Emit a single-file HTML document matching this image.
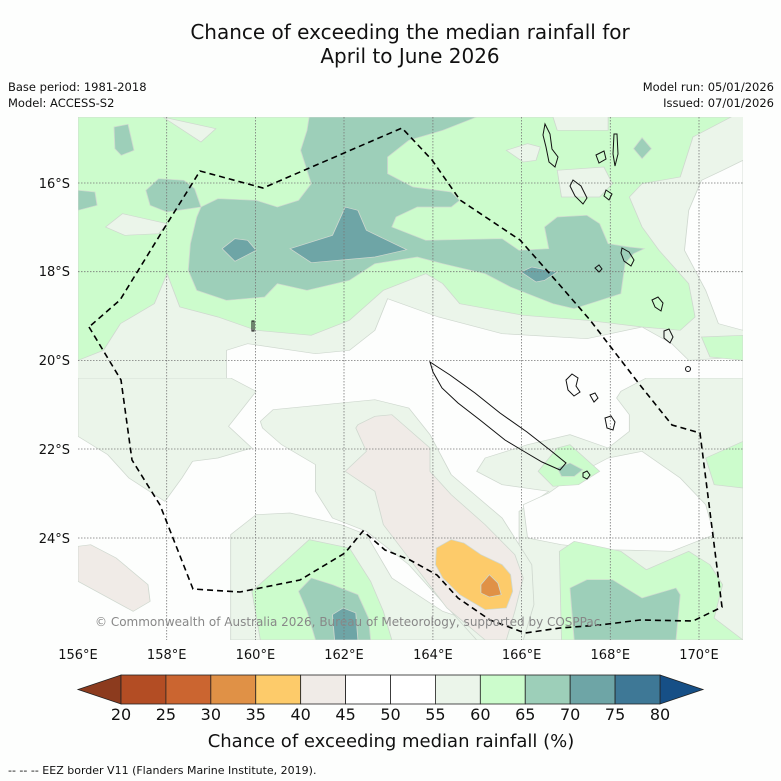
<!DOCTYPE html>
<html><head><meta charset="utf-8"><style>
body{margin:0;background:#fdfefd;}
svg{display:block;font-family:"DejaVu Sans","Liberation Sans",sans-serif;}
</style></head><body>
<svg width="781" height="781" viewBox="0 0 781 781">
<rect width="781" height="781" fill="#fdfefd"/>
<text x="410" y="39" text-anchor="middle" font-size="20" fill="#111">Chance of exceeding the median rainfall for</text>
<text x="410" y="63" text-anchor="middle" font-size="20" fill="#111">April to June 2026</text>
<text x="8" y="91" font-size="11.5" fill="#111">Base period: 1981-2018</text>
<text x="8" y="107" font-size="11.5" fill="#111">Model: ACCESS-S2</text>
<text x="774" y="91" text-anchor="end" font-size="11.5" fill="#111">Model run: 05/01/2026</text>
<text x="774" y="107" text-anchor="end" font-size="11.5" fill="#111">Issued: 07/01/2026</text>

<defs>
<clipPath id="ct"><rect x="78" y="117" width="665" height="261.5"/></clipPath>
<clipPath id="cb"><rect x="78" y="378" width="665" height="262"/></clipPath>
<clipPath id="cm"><rect x="78" y="117" width="665" height="523"/></clipPath>
</defs>

<g>
<rect x="78" y="117" width="665" height="523" fill="#fdfefd"/>
<g clip-path="url(#ct)">
<g transform="translate(78,117) scale(0.42411,0.33333)" stroke="#cfd8cf" stroke-width="2">
<rect x="0" y="0" width="1568" height="786" fill="#ebf5ea" stroke="none"/>
<polygon fill="#fdfefd" points="350,786 350,700 400,680 560,710 640,700 700,640 730,545 850,600 1000,650 1200,665 1330,630 1400,680 1440,730 1568,720 1568,786"/>
<polygon fill="#fdfefd" points="1568,130 1520,160 1470,190 1440,280 1430,400 1480,520 1510,620 1568,640"/>
<polygon fill="#ccfccc" points="0,0 1120,0 1130,40 1250,40 1250,0 1540,0 1450,60 1420,180 1330,200 1300,240 1330,330 1370,400 1440,500 1455,600 1420,640 1330,630 1200,610 1050,595 900,560 860,500 820,470 720,520 640,610 550,655 420,640 330,600 240,570 210,470 180,560 100,620 60,700 0,730"/>
<polygon fill="#ebf5ea" points="200,0 325,35 290,75"/>
<polygon fill="#ebf5ea" points="1010,100 1060,80 1090,90 1080,130 1050,135"/>
<polygon fill="#ebf5ea" points="65,330 105,290 210,320 190,350 110,355"/>
<polygon fill="#ebf5ea" points="1130,160 1240,150 1260,200 1230,240 1140,240"/>
<polygon fill="#ccfccc" points="1470,660 1568,655 1568,730 1490,720"/>
<polygon fill="#9dcfb9" points="545,0 940,0 860,40 780,70 730,120 730,170 790,210 880,225 900,250 880,270 800,270 750,300 740,330 820,370 1000,365 1040,400 1110,395 1100,330 1130,300 1200,295 1230,320 1250,380 1300,390 1335,395 1310,410 1290,440 1280,530 1170,575 1120,560 1020,510 960,470 860,440 800,420 700,440 640,490 540,520 470,500 440,540 350,550 280,520 260,460 265,380 280,300 290,270 330,245 420,250 470,270 520,250 550,200 525,100 540,40"/>
<polygon fill="#9dcfb9" points="160,220 190,185 250,190 275,215 290,270 210,285 170,265"/>
<polygon fill="#9dcfb9" points="85,30 118,22 132,100 102,115 87,95"/>
<polygon fill="#9dcfb9" points="0,220 40,225 45,265 0,280"/>
<polygon fill="#9dcfb9" points="1310,95 1330,62 1352,95 1330,125"/>
<polygon fill="#6ea5a6" points="500,395 600,355 630,270 660,280 680,340 775,398 700,420 550,437"/>
<polygon fill="#6ea5a6" points="340,395 370,365 400,370 420,400 370,433"/>
<polygon fill="#6ea5a6" points="1045,465 1070,450 1130,465 1100,490 1080,495"/>
</g>
</g>
<g clip-path="url(#cb)">
<g transform="translate(78,378) scale(0.42411,0.33333)" stroke="#cfd8cf" stroke-width="2">
<rect x="0" y="0" width="1568" height="786" fill="#fdfefd" stroke="none"/>
<polygon fill="#ebf5ea" points="0,0 360,0 420,40 355,145 410,210 330,240 270,250 245,300 205,370 120,300 70,230 0,175"/>
<polygon fill="#ebf5ea" points="1280,40 1340,0 1568,0 1568,786 1040,786 1040,400 1110,340 1000,320 940,280 960,240 1060,200 1160,170 1250,210 1300,160 1300,110 1270,60"/>
<polygon fill="#fdfefd" points="1050,380 1110,345 1160,300 1250,240 1330,220 1420,300 1480,380 1500,470 1400,520 1250,515 1140,500 1060,480"/>
<polygon fill="#ccfccc" points="1480,240 1568,190 1568,330 1500,320"/>
<polygon fill="#ccfccc" points="1085,280 1130,210 1160,200 1230,280 1180,320 1120,325"/>
<polygon fill="#9dcfb9" points="1130,270 1160,255 1190,275 1170,295 1140,295"/>
<polygon fill="#ebf5ea" points="360,470 420,410 500,405 620,440 680,470 740,600 860,700 1000,760 1030,786 360,786"/>
<polygon fill="#ebf5ea" points="430,130 460,95 700,65 780,90 830,170 880,290 1000,420 1070,560 1075,680 1050,786 940,786 780,560 680,460 600,420 560,340 560,260 480,200 435,150"/>
<polygon fill="#f0ebe7" points="660,140 700,115 740,110 830,210 830,280 880,350 960,440 1030,530 1050,600 1030,700 1010,786 960,786 870,690 780,540 720,440 700,340 630,280 680,220 655,150"/>
<polygon fill="#f0ebe7" points="0,505 30,500 90,540 165,620 170,670 130,700 0,610"/>
<polygon fill="#ccfccc" points="410,640 480,560 545,485 640,510 690,610 720,700 740,786 430,786"/>
<polygon fill="#9dcfb9" points="520,640 550,600 600,620 660,650 685,720 690,786 560,786 540,700"/>
<polygon fill="#6ea5a6" points="600,710 625,690 655,705 660,786 605,786"/>
<polygon fill="#ccfccc" points="1135,520 1170,490 1280,520 1340,575 1440,520 1490,560 1520,620 1500,720 1568,786 1140,786"/>
<polygon fill="#9dcfb9" points="1160,630 1200,605 1260,605 1330,660 1410,630 1420,650 1410,786 1170,786"/>
<polygon fill="#fdcb6a" points="845,510 880,485 910,495 950,530 1000,560 1020,590 1025,640 1010,690 960,695 900,650 860,600 843,560"/>
<polygon fill="#e09146" points="950,620 970,590 990,615 998,650 970,657 950,645"/>
</g>
</g>

<g stroke="#777" stroke-width="0.8" stroke-dasharray="1.5,1.5">
<line x1="166.7" y1="117" x2="166.7" y2="640"/><line x1="255.4" y1="117" x2="255.4" y2="640"/>
<line x1="344" y1="117" x2="344" y2="640"/><line x1="432.9" y1="117" x2="432.9" y2="640"/>
<line x1="521.6" y1="117" x2="521.6" y2="640"/><line x1="610.3" y1="117" x2="610.3" y2="640"/>
<line x1="699" y1="117" x2="699" y2="640"/>
<line x1="78" y1="183" x2="743" y2="183"/><line x1="78" y1="271.7" x2="743" y2="271.7"/>
<line x1="78" y1="360.5" x2="743" y2="360.5"/><line x1="78" y1="449" x2="743" y2="449"/>
<line x1="78" y1="538" x2="743" y2="538"/>
</g>

<g fill="none" stroke="#111" stroke-width="1" clip-path="url(#cm)">
<polygon points="430,362 450,375 475,393 500,413 527,432 550,450 566,463 560,470 542,462 525,452 505,440 480,420 458,403 442,388 433,372"/>
<path d="M566,380 l6,-6 6,4 -2,8 4,6 -6,4 -6,-6 z"/>
<path d="M590,395 l5,-2 3,5 -4,4 z"/>
<path d="M605,418 l6,-2 4,6 -2,8 -6,-2 z"/>
<path d="M583,473 l4,-2 3,4 -3,4 -4,-2 z"/>
<path d="M545,124 l5,10 2,15 6,8 -3,10 -6,-5 -3,-15 -3,-12 z"/>
<path d="M573,180 l8,6 6,12 -4,6 -8,-8 -5,-10 z"/>
<path d="M596,155 l8,-4 2,8 -7,4 z"/>
<path d="M614,134 l3,0 1,20 -3,12 -2,-12 z"/>
<path d="M606,190 l6,4 -3,6 -5,-4 z"/>
<path d="M622,248 l7,4 5,8 -3,6 -7,-5 -3,-8 z"/>
<path d="M652,300 l6,-3 5,6 -2,8 -6,-4 z"/>
<path d="M664,331 l5,-2 4,8 -3,6 -6,-5 z"/>
<circle cx="688" cy="369" r="2.5"/>
<path d="M252,321 l2,0 0,10 -2,0 z"/>
<path d="M595,268 l4,-3 3,4 -3,3 z"/>
</g>

<polyline fill="none" stroke="#000" stroke-width="1.6" stroke-dasharray="6,4"
points="89,327 121,380 132,460 160,505 193,589 240,592 300,580 345,553 363,531 385,550 410,560 437,575 458,598 490,620 525,633 560,628 600,625 640,620 693,621 722,607 700,433 672,425 640,385 590,320 558,283 520,240 460,200 432,160 402,128 263,188 200,171 160,235 120,300 89,327"/>

<text x="95" y="626" font-size="12" fill="#888">© Commonwealth of Australia 2026, Bureau of Meteorology, supported by COSPPac</text>
</g>

<g font-size="13" fill="#111">
<text x="70" y="188" text-anchor="end">16°S</text>
<text x="70" y="276" text-anchor="end">18°S</text>
<text x="70" y="365" text-anchor="end">20°S</text>
<text x="70" y="454" text-anchor="end">22°S</text>
<text x="70" y="543" text-anchor="end">24°S</text>
</g>
<g font-size="13" fill="#111" text-anchor="middle">
<text x="78" y="659">156°E</text><text x="166.7" y="659">158°E</text><text x="255.4" y="659">160°E</text>
<text x="344" y="659">162°E</text><text x="432.9" y="659">164°E</text><text x="521.6" y="659">166°E</text>
<text x="610.3" y="659">168°E</text><text x="699" y="659">170°E</text>
</g>

<g id="colorbar"></g>
<text x="391" y="747" text-anchor="middle" font-size="18" fill="#111">Chance of exceeding median rainfall (%)</text>
<text x="8" y="774" font-size="11" fill="#111">--  --  -- EEZ border V11 (Flanders Marine Institute, 2019).</text>
</svg>
<script>
var levels = [20,25,30,35,40,45,50,55,60,65,70,75,80];
var binColors = ["#b34d24","#cb6530","#e09146","#fdcb6a","#f0ebe7","#ffffff","#ffffff","#ebf5ea","#ccfccc","#9dcfb9","#6ea5a6","#3e7896"];
var extendColors = ["#8c3b1e","#164f86"];
(function(){
  var ns="http://www.w3.org/2000/svg", g=document.getElementById('colorbar');
  var x0=121, x1=660, y=675, h=29, n=binColors.length, w=(x1-x0)/n;
  function xs(i){return x0+i*w;}
  var lt=document.createElementNS(ns,'polygon');
  lt.setAttribute('points',(78)+','+(y+h/2)+' '+x0+','+y+' '+x0+','+(y+h));
  lt.setAttribute('fill',extendColors[0]);lt.setAttribute('stroke','#222');lt.setAttribute('stroke-width','0.8');
  
  
  g.appendChild(lt);
  var rt=document.createElementNS(ns,'polygon');
  rt.setAttribute('points',x1+','+y+' '+(703)+','+(y+h/2)+' '+x1+','+(y+h));
  rt.setAttribute('fill',extendColors[1]);rt.setAttribute('stroke','#222');rt.setAttribute('stroke-width','0.8');
  
  
  g.appendChild(rt);
  for(var i=0;i<n;i++){
    var r=document.createElementNS(ns,'rect');
    r.setAttribute('x',xs(i));r.setAttribute('y',y);r.setAttribute('width',w);r.setAttribute('height',h);
    r.setAttribute('fill',binColors[i]);r.setAttribute('stroke','#222');r.setAttribute('stroke-width','0.8');
    
    
    g.appendChild(r);
  }
  for(var j=0;j<levels.length;j++){
    var t=document.createElementNS(ns,'text');
    t.setAttribute('x',xs(j));t.setAttribute('y',720);t.setAttribute('text-anchor','middle');
    t.setAttribute('font-size','16');t.setAttribute('fill','#111');
    t.textContent=levels[j];
    
    
    g.appendChild(t);
  }
})();
</script>
</body></html>
